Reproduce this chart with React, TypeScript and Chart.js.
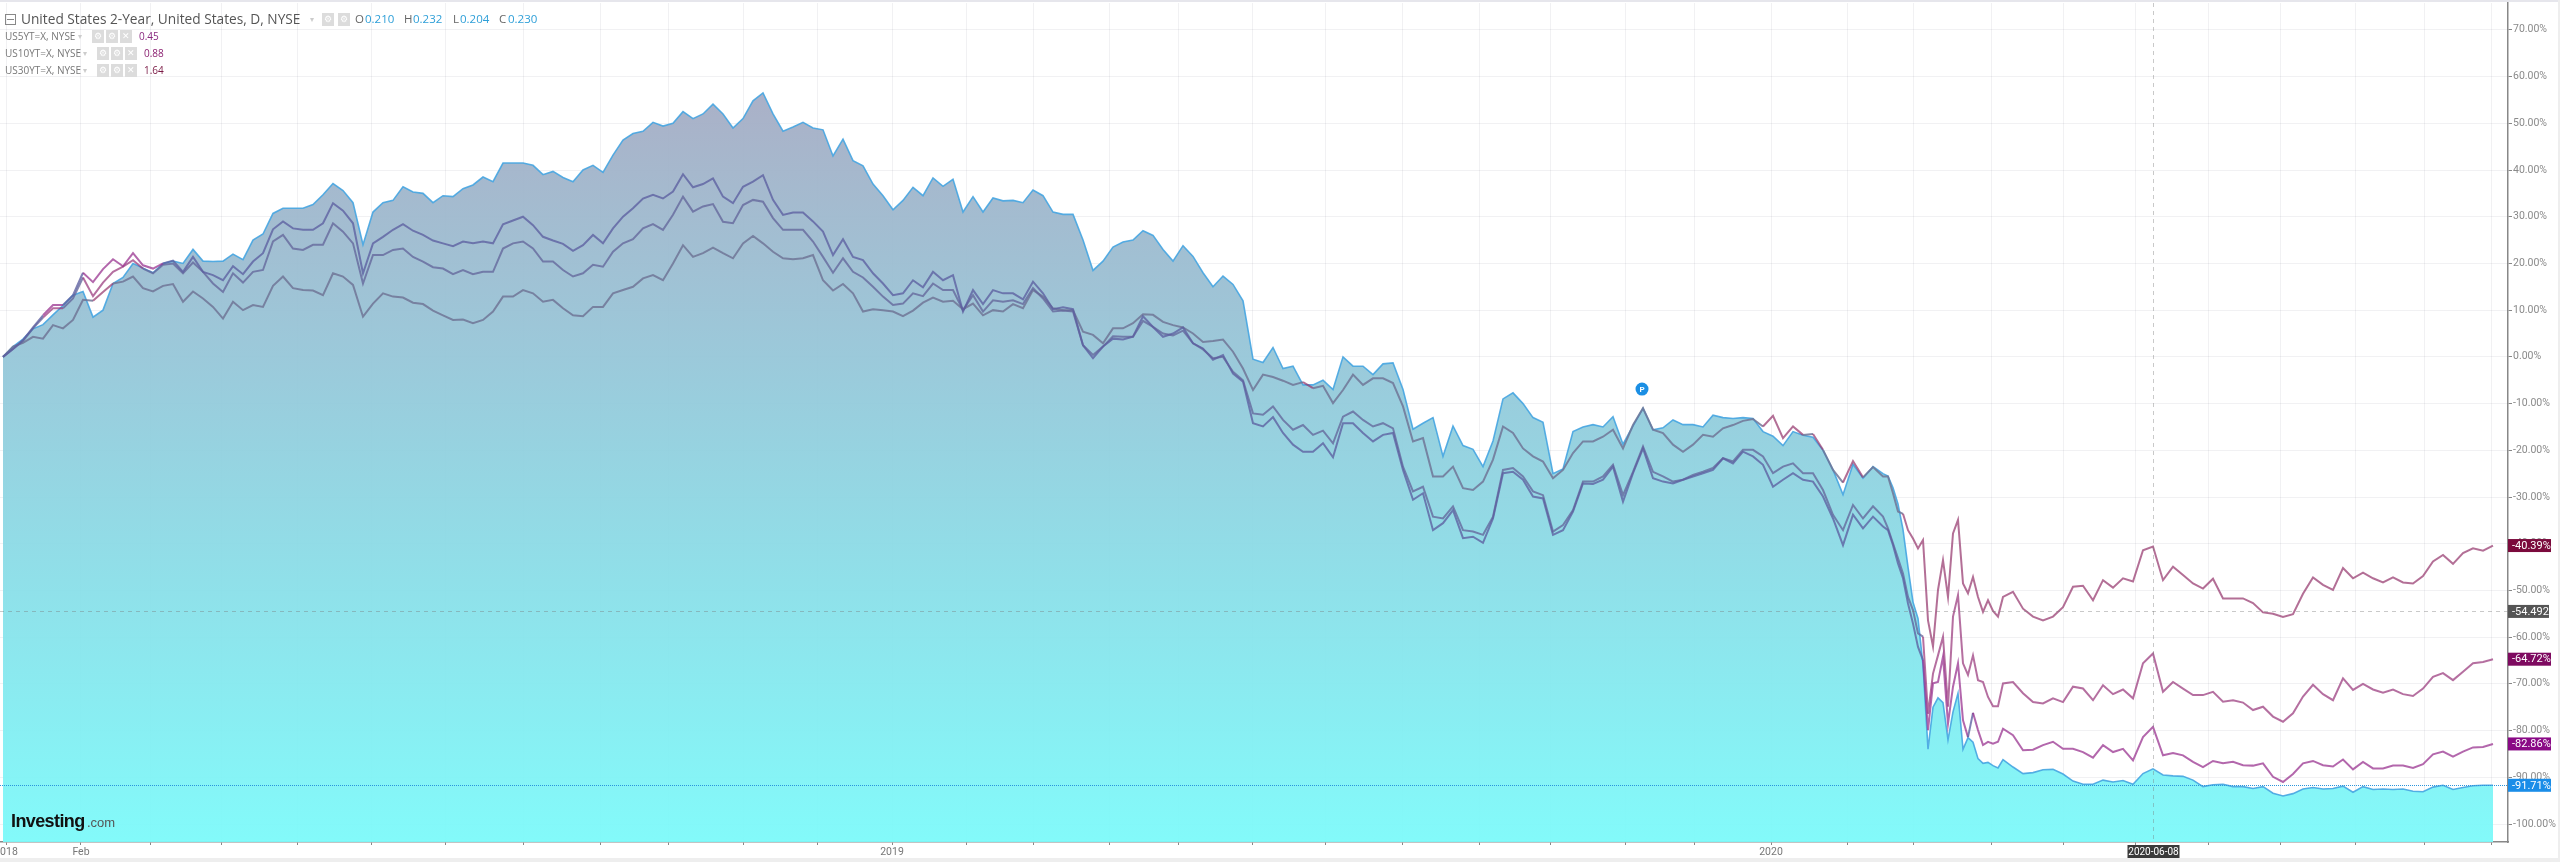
import React, { useEffect, useRef } from "react";
import { Chart, registerables } from "chart.js";

Chart.register(...registerables);

const us2Y = [
  0,2.2,3.8,6,6.9,9,11,13.2,14,8.5,
  10,15.7,17,20,19,18,20,20.5,20,23,
  20.5,20.4,20.5,22,20.8,25,26.3,30.7,31.8,31.8,
  31.8,32.6,34.7,37.1,35.6,33,24,31,33,33.5,
  36.4,35.3,35,33,34.5,34.3,36,36.8,38.5,37.5,
  41.5,41.5,41.5,41,39,39.7,38.4,37.5,40,41,
  39.5,43.2,46.4,47.8,48.3,50.2,49.4,50,52.5,51,
  52,54.1,52,49,51,54.8,56.5,52,48.3,49.2,
  50.2,49,48.6,43,46.6,42,40.9,37,34.5,31.5,
  33.5,36.3,34.5,38.3,36.5,38,31,34.3,31,34,
  33.4,33.5,33,35.7,34.5,31,30.5,30.5,25,18.5,
  20.5,23.5,24.6,25,27,26,23,20.5,23.8,21.5,
  18,15,17.3,15.5,12,-0.5,-1.2,2,-2.5,-2,
  -6,-6,-5,-7,0,-2,-2,-3.8,-1.5,-1.3,
  -7,-15.5,-14.2,-13,-21.3,-14.8,-19,-19.8,-23.5,-18,
  -9,-7.7,-10,-13,-14,-25,-24,-16,-15,-14.5,
  -15,-12.8,-18.7,-14.8,-11,-15.6,-15.2,-13.5,-14.5,-14.5,
  -15,-12.5,-13,-13.2,-13,-13.2,-16,-17,-19,-16,
  -16.8,-17.2,-20,-24.2,-29.5,-23,-26,-23.5,-25,-25.5,
  -28,-31.5,-37,-45,-52.5,-56,-66,-84,-75,-73,
  -74,-82,-76,-72,-84,-81.5,-82.5,-86,-87,-86.8,
  -87.5,-88,-86.2,-87.8,-89.2,-89,-88.4,-88.3,-89.3,-90.8,
  -91.5,-91.5,-90.6,-91,-90.7,-91.5,-89.2,-88.2,-89.5,-89.7,
  -89.8,-90.6,-92,-91.6,-91.5,-92,-92,-92.4,-92,-93.4,
  -94,-93.5,-92.5,-92.2,-92.5,-92.4,-91.9,-93.2,-92,-92.6,
  -92.5,-92.6,-92.5,-93,-93.1,-92.1,-91.7,-92.6,-92.2,-91.8,
  -91.7,-91.71,
];

const us5Y = [
  0,1.7,3.6,6.3,8.9,11.1,11.1,13.2,18,16,
  18.8,20.9,19.4,22.2,19.6,18.9,20,20.6,18.2,21.4,
  18.2,17.5,16.4,19.4,17.7,20.4,22.2,27.3,29,27.5,
  27.2,27.2,28.6,32.9,31.3,28.6,17.9,24.3,25.7,27.2,
  28.4,27,26.1,24.9,24.3,23.7,24.7,24.3,24.7,24.3,
  28.4,29.2,30,28.2,25.7,24.9,24.2,22.7,23.9,26.1,
  24.3,27.5,30,31.8,33.9,34.7,33.9,35.4,39.1,36.3,
  37,38.2,34.3,32.9,36.4,37.5,38.9,33.6,30.4,30.9,
  30.9,29,26.8,21.8,25.2,21.4,20.7,17.9,15.7,13.2,
  13.6,16.4,14.9,18.2,16.4,17.5,9.7,14.3,11.3,14.3,
  13.6,13.6,12.3,16.1,13.6,10.2,10.6,10.2,2.5,-0.3,
  2.2,3.9,3.7,4.3,8.7,6.4,4.3,5,6.3,2.9,
  1.8,-0.6,0.4,-3.6,-5.3,-14.2,-14.9,-12.9,-16.3,-18.8,
  -20.3,-20.3,-18.5,-21.5,-14.2,-14.2,-16.3,-18.1,-16.7,-16.3,
  -24.2,-30.6,-29.2,-37.1,-35.6,-32.8,-38.8,-38.5,-39.8,-34.6,
  -24.9,-24.6,-26.3,-29.9,-30.3,-38.1,-37.1,-33.1,-27.1,-27.2,
  -26.3,-23.5,-31,-24.9,-19.6,-26,-26.7,-27.1,-26.3,-25.6,
  -24.9,-24.2,-21.7,-22.8,-20.3,-21.3,-23.1,-27.8,-26.3,-24.9,
  -26.3,-26.7,-29.9,-34.6,-40.3,-33.8,-36.7,-34.2,-36.3,-37.1,
  -40.3,-44.2,-47.4,-52.8,-57.1,-62.1,-64.9,-79.9,-69.9,-69.6,
  -64.2,-78.5,-70.6,-65.6,-77.8,-81.4,-76.2,-79.9,-83.1,-82.4,
  -82.8,-82.4,-79.6,-81,-84.2,-84.1,-83.1,-82.4,-83.9,-83.9,
  -84.6,-85.8,-83.1,-84.6,-83.9,-86.4,-81.4,-79.2,-85.3,-84.8,
  -85.3,-86.7,-87.8,-86.5,-87,-86.7,-87.4,-87.5,-87,-89.9,
  -91,-89.3,-87,-86.5,-87.4,-87.7,-86.2,-88.3,-86.7,-88.1,
  -88.1,-87.5,-87.5,-88,-87.2,-85.1,-84.5,-85.6,-84.5,-83.6,
  -83.5,-82.86,
];

const us10Y = [
  0,1.7,3.4,6.1,8.4,10.4,10.4,12.5,17,13,
  15.9,18.2,19.3,20.7,18.9,17.9,19.7,20,17.9,20.2,
  18.2,15.7,13.9,17.9,15.9,18.2,18.6,24.7,26.1,23.2,
  22.9,24,24,28.6,26.8,24.3,15.7,21.8,21.8,22.9,
  23.2,21.4,20.4,19.2,18.9,17.7,18.6,17.7,18.2,18.2,
  23.2,24.3,24.7,23.2,20.4,20.4,18.6,17.2,17.9,19.7,
  19.3,22.5,24.3,25.2,27.5,28.4,27.2,30.4,34.3,31.1,
  32.2,32.7,28.9,28.6,32.5,33.6,33.2,29.7,27.2,27.2,
  27.2,24.7,21.4,18,21.1,18.2,17,15,12.9,11.1,
  11.4,13.6,13,15.7,14.3,14.3,10,13.2,9.7,12.1,
  11.8,12.1,11.3,14.7,12.5,9.7,9.9,9.7,2.5,0.4,
  2.2,4.4,4.3,4.3,7.7,6.4,5,4.6,5.6,2.9,
  1.6,-0.3,0,-3.2,-5,-12.1,-12.4,-10.6,-13.5,-15.6,
  -14.6,-16.7,-15.8,-18.5,-12.8,-11.7,-13.5,-14.9,-14.2,-15.3,
  -23.5,-28.8,-27.8,-34.2,-34.6,-32,-37.1,-37.4,-38.1,-34.2,
  -24.2,-23.8,-25.6,-28.8,-29.6,-37.4,-36,-32.8,-26.7,-26.7,
  -25.6,-23.1,-29.6,-24.6,-19.2,-24.6,-25.6,-26.7,-26.3,-25.3,
  -24.6,-23.8,-21.7,-22.4,-19.9,-19.9,-21.3,-24.9,-23.5,-22.8,
  -24.9,-24.9,-28.5,-33.8,-37.1,-31.7,-34.6,-32,-34.2,-36.7,
  -39.9,-43.1,-46.4,-51.4,-54.2,-59.2,-59.9,-76.4,-67.8,-63.9,
  -59.9,-74.9,-55.6,-51,-65.6,-68.1,-63.9,-69.2,-69.6,-72.8,
  -74.8,-74.8,-69.9,-69.6,-72,-73.9,-74.2,-73.1,-73.9,-70.6,
  -71,-73.5,-70.3,-72.2,-71.2,-73.1,-65.6,-63.5,-71.7,-69.6,
  -71,-72.4,-72.4,-71.7,-73.8,-73.5,-74,-75.6,-74.9,-77,
  -78.1,-76.3,-72.7,-70.2,-72.2,-73.5,-68.8,-71.3,-70,-71.2,
  -71.9,-71.2,-72.2,-72.6,-71,-68.5,-67.7,-69.2,-67.4,-65.6,
  -65.3,-64.72,
];

const us30Y = [
  0,2.2,3,4.3,3.9,6.8,6.1,7.9,12.2,12,
  13.9,15.7,16.1,17.2,14.7,14,15.2,15.6,11.8,14,
  12.5,10.7,8.2,11.8,10,11.1,10.7,15.2,17.2,14.7,
  14.3,14.2,13.2,17.9,17.2,15.4,8.6,11.4,13.6,12.9,
  12.7,11.6,11.3,9.9,8.9,7.9,8,7.2,7.9,9.7,
  12.9,12.9,14.3,13.6,11.8,12.2,10.4,8.9,8.7,10.7,
  10.7,13.6,14.3,15,16.8,17.5,16.4,20,23.9,21.4,
  22.2,23.4,22.2,21.1,24.3,25.9,24.3,22.5,21.1,20.9,
  21.1,21.8,16.4,14.2,15.6,13.6,9.7,10.2,10,9.7,
  8.7,9.9,11.6,12.7,11.8,12,10.2,11.4,8.9,10,
  9.7,11.3,10.4,14.3,12.9,10.4,10,10,5.4,4.7,
  2.9,6.1,6.1,7.2,9.1,9,7.5,6.8,6.3,5,
  3.2,3.4,3.7,1.1,-2.5,-7.1,-3.8,-4.3,-5.1,-6,
  -5.4,-6.7,-6.2,-9.9,-7.1,-3.8,-6,-4.6,-4.6,-5.6,
  -10.6,-18.1,-17.4,-25.6,-25.6,-23.5,-28.1,-28.5,-26.7,-22,
  -14.9,-16.3,-19.6,-21.3,-22.4,-26,-24.2,-20.6,-18.1,-18.1,
  -17.1,-15.6,-19.6,-14.6,-11,-15.6,-16.3,-18.8,-20.3,-18.8,
  -16.7,-17.1,-15.3,-14.6,-13.7,-13.3,-14.9,-12.6,-17.4,-14.9,
  -16.7,-16.5,-19.9,-24.2,-26.9,-22.3,-25.8,-23.6,-25.6,-25.6,
  -29.2,-33.1,-33.6,-37.1,-38.9,-41,-39.2,-56.4,-62,-49.9,
  -43.5,-51.4,-37.8,-34.9,-48.5,-50.6,-47.1,-51.4,-54.6,-52.1,
  -54.4,-55.6,-51.4,-50.3,-53.9,-55.6,-56.4,-55.6,-53.6,-49.2,
  -49,-52.1,-47.8,-49.4,-47.4,-48.1,-41.4,-40.6,-47.8,-44.9,
  -46.7,-48.5,-49.6,-47.5,-51.7,-51.7,-51.7,-52.7,-54.7,-55,
  -55.7,-55.1,-50.7,-47.2,-48.8,-49.9,-45.2,-47.4,-46.2,-47.4,
  -48.3,-47.2,-48.3,-48.5,-46.9,-43.8,-42.4,-44.3,-42,-41,
  -41.5,-40.39,
];

// Time axis: unit = one sampling step; the crash of early 2020 is sampled twice as densely.
const timeAt = (i: number) => (i <= 188 ? i : i <= 212 ? 188 + (i - 188) / 2 : 200 + (i - 212));
const timeMin = -0.3;
const timeMax = 250.5;

const monthTicks = [
  0.3,7.8,14.7,21.9,29.4,36.9,44.2,52,59.7,66.6,74.1,81.4,88.9,96.4,103,110.6,117.5,
  124.9,132.2,139.9,147.6,154.7,162.2,169.1,176.8,184.4,191,198.8,206,213.2,220.5,227.7,235.2,242.1,248.8,
];
const monthLabels: Record<string, string> = { "0.3": "2018", "7.8": "Feb", "88.9": "2019", "176.8": "2020" };
const yTicks = [70, 60, 50, 40, 30, 20, 10, 0, -10, -20, -30, -40, -50, -60, -70, -80, -90, -100];
const yMin = -103.85;
const yMax = 75.75;

const crosshairTime = 215;
const crosshairLabel = "2020-06-08";
const pMarker = { time: 163.9, value: -6.9 };
const priceLine = { value: -54.492, label: "-54.492", color: "#555555" };
const badges = [
  { value: -40.39, label: "-40.39%", color: "#7b0a3c" },
  { value: -64.72, label: "-64.72%", color: "#7e0a60" },
  { value: -82.86, label: "-82.86%", color: "#8a0a86" },
  { value: -91.71, label: "-91.71%", color: "#1a8de8" },
];

const axisFont = "Roboto, 'Liberation Sans', sans-serif";

const toPoints = (values: number[]) => values.map((y, i) => ({ x: timeAt(i), y }));

const lineDataset = (label: string, values: number[], overWhite: string, overFill: string) => ({
  label,
  data: toPoints(values),
  borderColor: overFill,
  borderWidth: 2,
  pointRadius: 0,
  tension: 0,
  fill: false,
  segment: {
    borderColor: (c: any) => (c.p0.parsed.y > us2Y[c.p0DataIndex] + 0.4 ? overWhite : overFill),
  },
});

const overlayPlugin = {
  id: "overlay",
  afterDatasetsDraw(chart: any) {
    const { ctx, chartArea: a, scales } = chart;
    const x = scales.x;
    const y = scales.y;
    ctx.save();
    // crosshair
    ctx.setLineDash([4, 4]);
    ctx.strokeStyle = "rgba(120,120,120,0.4)";
    ctx.lineWidth = 1;
    const cx = Math.round(x.getPixelForValue(crosshairTime)) + 0.5;
    ctx.beginPath();
    ctx.moveTo(cx, a.top);
    ctx.lineTo(cx, a.bottom);
    ctx.stroke();
    const py = Math.round(y.getPixelForValue(priceLine.value)) + 0.5;
    ctx.beginPath();
    ctx.moveTo(a.left, py);
    ctx.lineTo(a.right, py);
    ctx.stroke();
    // last-value line of the 2-year
    ctx.setLineDash([1, 1]);
    ctx.strokeStyle = "#2b95dc";
    const by = Math.round(y.getPixelForValue(us2Y[us2Y.length - 1])) + 0.5;
    ctx.beginPath();
    ctx.moveTo(a.left, by);
    ctx.lineTo(a.right, by);
    ctx.stroke();
    ctx.setLineDash([]);
    // P marker
    const mx = x.getPixelForValue(pMarker.time);
    const my = y.getPixelForValue(pMarker.value);
    ctx.fillStyle = "#1b8fe4";
    ctx.beginPath();
    ctx.arc(mx, my, 6.5, 0, Math.PI * 2);
    ctx.fill();
    ctx.fillStyle = "#fff";
    ctx.font = "bold 8px " + axisFont;
    ctx.textAlign = "center";
    ctx.textBaseline = "middle";
    ctx.fillText("P", mx, my + 0.5);
    // value badges
    ctx.font = "11px " + axisFont;
    for (const b of [priceLine, ...badges]) {
      const by2 = y.getPixelForValue(b.value);
      ctx.fillStyle = b.color;
      ctx.fillRect(a.right, by2 - 6.5, b === priceLine ? 41 : 43, 13);
      ctx.fillStyle = "#fff";
      ctx.textAlign = "left";
      ctx.fillText(b.label, a.right + 4, by2 + 0.5);
    }
    // crosshair date
    ctx.fillStyle = "#3a3a3a";
    ctx.fillRect(cx - 26, a.bottom + 3, 52, 14);
    ctx.fillStyle = "#fff";
    ctx.textAlign = "center";
    ctx.font = "10px " + axisFont;
    ctx.fillText(crosshairLabel, cx, a.bottom + 10.5);
    ctx.restore();
  },
};

const box: React.CSSProperties = {
  position: "absolute",
  width: 12,
  height: 13,
  background: "#dcdcdc",
  color: "#fff",
  fontSize: 9,
  lineHeight: "13px",
  textAlign: "center",
};

const text = (left: number, top: number, value: string, color: string, size: number, extra: React.CSSProperties = {}) => (
  <span
    style={{
      position: "absolute",
      left,
      top,
      color,
      fontSize: size,
      lineHeight: "16px",
      whiteSpace: "nowrap",
      fontFamily: "'Open Sans', sans-serif",
      ...extra,
    }}
  >
    {value}
  </span>
);

const studyRow = (top: number, name: string, boxLeft: number, valueLeft: number, value: string, color: string) => (
  <React.Fragment key={name}>
    {text(5, top - 8, name, "#777", 10)}
    {text(boxLeft - 14, top - 8, "▾", "#ccc", 8)}
    <span style={{ ...box, left: boxLeft, top: top - 6 }}>⚙</span>
    <span style={{ ...box, left: boxLeft + 14, top: top - 6 }}>⚙</span>
    <span style={{ ...box, left: boxLeft + 28, top: top - 6 }}>✕</span>
    {text(valueLeft, top - 8, value, color, 10)}
  </React.Fragment>
);

export default function App() {
  const ref = useRef<HTMLCanvasElement>(null);

  useEffect(() => {
    const chart = new Chart(ref.current as HTMLCanvasElement, {
      type: "line",
      plugins: [overlayPlugin],
      data: {
        datasets: [
          lineDataset("US5YT=X", us5Y, "rgba(150,45,140,0.72)", "rgba(92,95,160,0.78)"),
          lineDataset("US10YT=X", us10Y, "rgba(150,50,120,0.7)", "rgba(100,102,155,0.78)"),
          lineDataset("US30YT=X", us30Y, "rgba(150,55,110,0.72)", "rgba(112,118,150,0.85)"),
          {
            label: "United States 2-Year",
            data: toPoints(us2Y),
            borderColor: "rgba(70,165,225,0.9)",
            borderWidth: 1.6,
            pointRadius: 0,
            tension: 0,
            fill: "start",
            backgroundColor: (c: any) => {
              const { chartArea, scales, ctx } = c.chart;
              if (!chartArea) return "rgba(150,200,220,0.9)";
              const g = ctx.createLinearGradient(0, scales.y.getPixelForValue(57), 0, chartArea.bottom);
              g.addColorStop(0, "rgba(166,172,196,0.95)");
              g.addColorStop(0.35, "rgba(150,198,216,0.95)");
              g.addColorStop(1, "rgba(124,250,250,0.95)");
              return g;
            },
          },
        ],
      },
      options: {
        responsive: false,
        animation: false,
        normalized: true,
        layout: { padding: { top: 3, left: 0, right: 0, bottom: 0 } },
        plugins: { legend: { display: false }, tooltip: { enabled: false } },
        scales: {
          x: {
            type: "linear",
            min: timeMin,
            max: timeMax,
            afterBuildTicks: (s: any) => {
              s.ticks = monthTicks.map((value) => ({ value }));
            },
            afterFit: (s: any) => {
              s.height = 20;
              s.paddingLeft = 0;
              s.paddingRight = 0;
            },
            grid: { color: "rgba(60,60,90,0.07)", tickColor: "#888", tickLength: 3 },
            border: { color: "#888", width: 1.5 },
            ticks: {
              autoSkip: false,
              maxRotation: 0,
              padding: 1,
              color: "#777",
              font: { family: axisFont, size: 10.5 },
              callback: (v: any) => monthLabels[String(v)] ?? "",
            },
          },
          y: {
            type: "linear",
            position: "right",
            min: yMin,
            max: yMax,
            afterBuildTicks: (s: any) => {
              s.ticks = yTicks.map((value) => ({ value }));
            },
            afterFit: (s: any) => {
              s.width = 52;
              s.paddingTop = 0;
              s.paddingBottom = 0;
            },
            grid: { color: "rgba(60,60,90,0.07)", tickColor: "#888", tickLength: 4 },
            border: { color: "#888", width: 1.5 },
            ticks: {
              padding: 1,
              color: "#8a8a8a",
              font: { family: axisFont, size: 10.5 },
              callback: (v: any) => Number(v).toFixed(2) + "%",
            },
          },
        },
      },
    } as any);
    return () => chart.destroy();
  }, []);

  return (
    <div style={{ position: "fixed", left: 0, top: 0, width: 2560, height: 862, background: "#fff", overflow: "hidden" }}>
      <canvas ref={ref} width={2560} height={862} style={{ position: "absolute", left: 0, top: 0, display: "block" }} />
      <div style={{ position: "absolute", left: 0, top: 0, width: 2560, height: 2, background: "#e6e6ec" }} />
      <div style={{ position: "absolute", left: 0, top: 858, width: 2560, height: 4, background: "#eeeeee" }} />
      <div style={{ position: "absolute", left: 2558, top: 0, width: 2, height: 862, background: "#eeeeee" }} />

      <div style={{ position: "absolute", left: 5, top: 14, width: 9, height: 9, border: "1px solid #888" }}>
        <div style={{ position: "absolute", left: 1, top: 4, width: 7, height: 1, background: "#888" }} />
      </div>
      {text(21, 11, "United States 2-Year, United States, D, NYSE", "#555", 13.7)}
      {text(310, 11, "▾", "#ccc", 8)}
      <span style={{ ...box, left: 322, top: 13 }}>⚙</span>
      <span style={{ ...box, left: 338, top: 13 }}>⚙</span>
      {text(355, 11, "O", "#666", 11.5)}
      {text(365, 11, "0.210", "#2e9fd8", 11.5)}
      {text(404, 11, "H", "#666", 11.5)}
      {text(413, 11, "0.232", "#2e9fd8", 11.5)}
      {text(453, 11, "L", "#666", 11.5)}
      {text(460, 11, "0.204", "#2e9fd8", 11.5)}
      {text(499, 11, "C", "#666", 11.5)}
      {text(508, 11, "0.230", "#2e9fd8", 11.5)}

      {studyRow(36, "US5YT=X, NYSE", 92, 139, "0.45", "#8a2a80")}
      {studyRow(53, "US10YT=X, NYSE", 97, 144, "0.88", "#8a1f70")}
      {studyRow(70, "US30YT=X, NYSE", 97, 144, "1.64", "#7b1a45")}

      {text(11, 813, "Investing", "#111", 18, { fontFamily: "'Liberation Sans', sans-serif", fontWeight: 700, letterSpacing: -0.6 })}
      {text(87, 815, ".com", "#555", 13, { fontFamily: "'Liberation Sans', sans-serif" })}
    </div>
  );
}
